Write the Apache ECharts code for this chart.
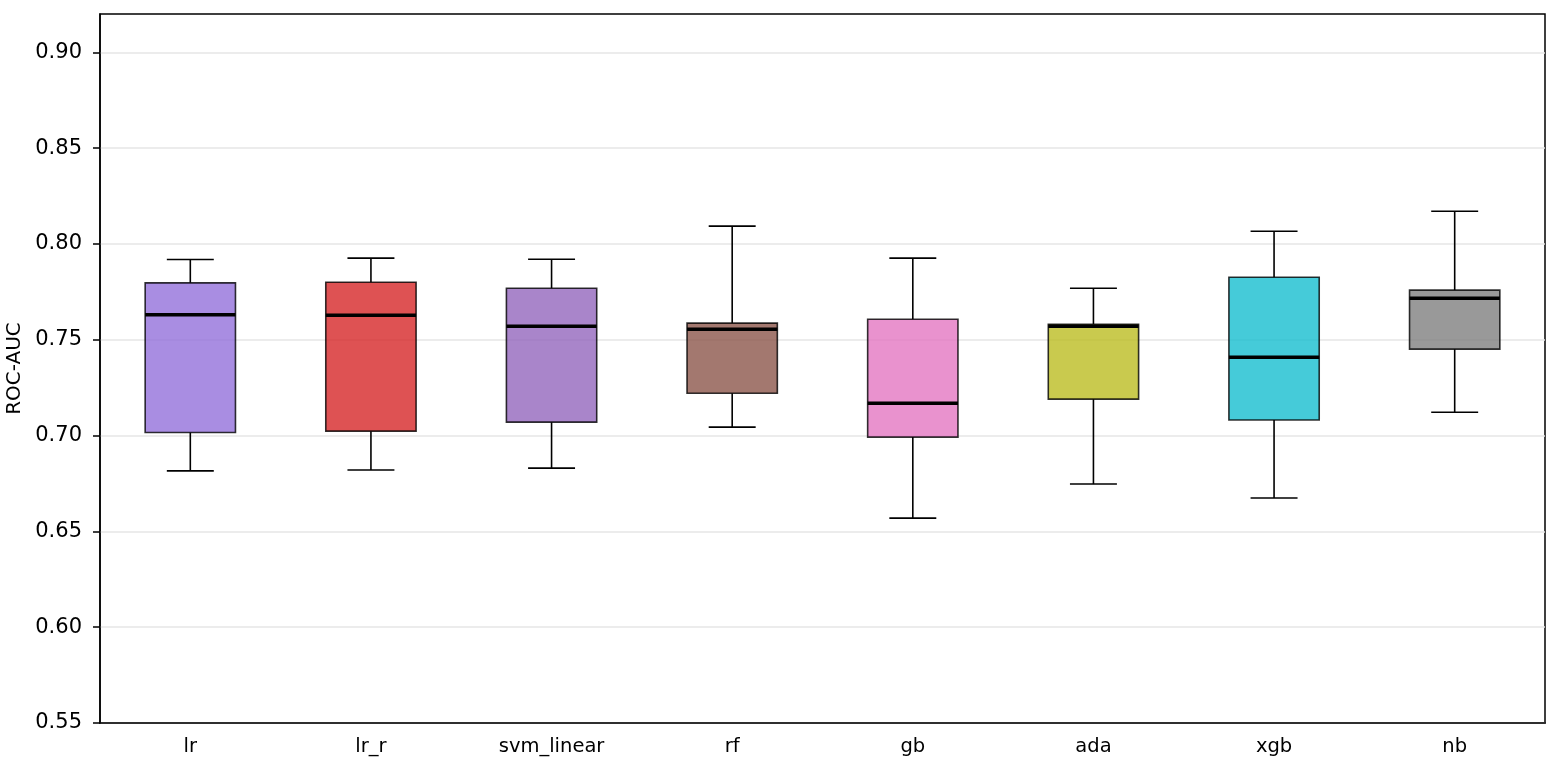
<!DOCTYPE html>
<html>
<head>
<meta charset="utf-8">
<script src="https://cdn.jsdelivr.net/npm/echarts@6/dist/echarts.min.js"></script>
<style>
  html, body { margin: 0; padding: 0; background: #fff; }
  #chart { width: 1557px; height: 768px; }
</style>
</head>
<body>
<div id="chart"></div>
<script>
// models and their ROC-AUC box statistics
const categories = ['lr', 'lr_r', 'svm_linear', 'rf', 'gb', 'ada', 'xgb', 'nb'];
const whiskerLow  = [0.6816, 0.6820, 0.6830, 0.7044, 0.6569, 0.6747, 0.6674, 0.7122];
const q1          = [0.7016, 0.7023, 0.7070, 0.7221, 0.6992, 0.7190, 0.7081, 0.7451];
const median      = [0.7630, 0.7628, 0.7571, 0.7555, 0.7169, 0.7571, 0.7409, 0.7717];
const q3          = [0.7797, 0.7800, 0.7769, 0.7587, 0.7607, 0.7581, 0.7826, 0.7759];
const whiskerHigh = [0.7919, 0.7926, 0.7920, 0.8093, 0.7926, 0.7769, 0.8066, 0.8171];
const yTicks = [0.55, 0.60, 0.65, 0.70, 0.75, 0.80, 0.85, 0.90];

const palette = ['#9370db', '#d62728', '#9467bd', '#8c564b', '#e377c2', '#bcbd22', '#17becf', '#7f7f7f'];

const chart = echarts.init(document.getElementById('chart'), null, { renderer: 'canvas' });

const rows = categories.map((c, i) => [i, whiskerLow[i], q1[i], median[i], q3[i], whiskerHigh[i]]);

function renderBox(params, api) {
  const x = api.value(0);
  const band = api.size([1, 0])[0];
  const half = band * 0.25;
  const cap = band * 0.13;
  const pLow = api.coord([x, api.value(1)]);
  const pQ1 = api.coord([x, api.value(2)]);
  const pMed = api.coord([x, api.value(3)]);
  const pQ3 = api.coord([x, api.value(4)]);
  const pHigh = api.coord([x, api.value(5)]);
  const cx = pMed[0];
  const lineStyle = { stroke: '#000', lineWidth: 1.6 };
  return {
    type: 'group',
    children: [
      { type: 'line', shape: { x1: cx, y1: pLow[1], x2: cx, y2: pQ1[1] }, style: lineStyle },
      { type: 'line', shape: { x1: cx, y1: pQ3[1], x2: cx, y2: pHigh[1] }, style: lineStyle },
      { type: 'line', shape: { x1: cx - cap, y1: pLow[1], x2: cx + cap, y2: pLow[1] }, style: lineStyle },
      { type: 'line', shape: { x1: cx - cap, y1: pHigh[1], x2: cx + cap, y2: pHigh[1] }, style: lineStyle },
      {
        type: 'rect',
        shape: { x: cx - half, y: pQ3[1], width: half * 2, height: pQ1[1] - pQ3[1] },
        style: { fill: palette[params.dataIndex], opacity: 0.8, stroke: '#000', lineWidth: 1.6 }
      },
      { type: 'line', shape: { x1: cx - half, y1: pMed[1], x2: cx + half, y2: pMed[1] }, style: { stroke: '#000', lineWidth: 3.5 } }
    ]
  };
}

const option = {
  animation: false,
  textStyle: { fontFamily: 'DejaVu Sans' },
  grid: {
    left: 100, right: 12, top: 14, bottom: 45,
    outerBoundsMode: 'none',
    containLabel: false,
    show: true, borderColor: '#000', borderWidth: 1.5, backgroundColor: 'transparent'
  },
  xAxis: {
    type: 'category',
    data: categories,
    boundaryGap: true,
    axisLine: { lineStyle: { color: '#000', width: 1.5 } },
    axisTick: { alignWithLabel: true, length: 7, lineStyle: { color: '#000', width: 1.5 } },
    axisLabel: { color: '#000', fontSize: 19.5, margin: 14, fontFamily: 'DejaVu Sans' },
    splitLine: { show: false }
  },
  yAxis: {
    type: 'value',
    min: 0.55,
    max: 0.92,
    interval: 0.05,
    name: 'ROC-AUC',
    nameLocation: 'middle',
    nameGap: 74,
    nameTextStyle: { color: '#000', fontSize: 20, fontFamily: 'DejaVu Sans' },
    axisLine: { show: true, lineStyle: { color: '#000', width: 1.5 } },
    axisTick: { show: true, length: 7, customValues: yTicks, lineStyle: { color: '#000', width: 1.5 } },
    axisLabel: {
      color: '#000', fontSize: 21, margin: 18, fontFamily: 'DejaVu Sans',
      customValues: yTicks,
      formatter: v => v.toFixed(2)
    },
    splitLine: { show: true, lineStyle: { color: '#e6e6e6', width: 1.5 } }
  },
  series: [{
    type: 'custom',
    renderItem: renderBox,
    encode: { x: 0, y: [1, 2, 3, 4, 5] },
    data: rows,
    z: 3
  }]
};

chart.setOption(option);
</script>
</body>
</html>
